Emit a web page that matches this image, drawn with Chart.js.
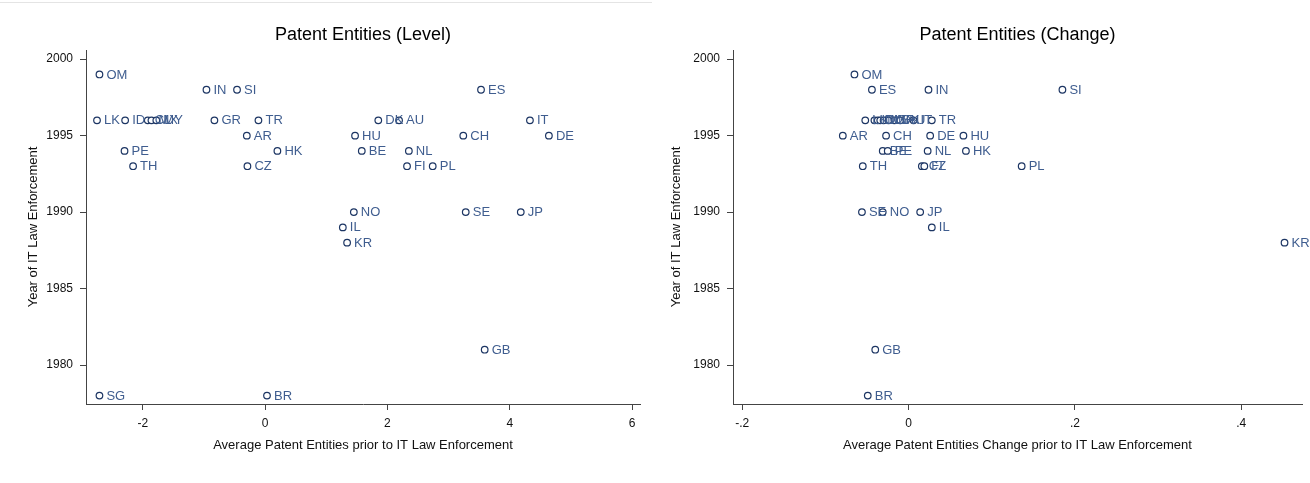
<!DOCTYPE html>
<html>
<head>
<meta charset="utf-8">
<script src="https://cdn.jsdelivr.net/npm/chart.js@4.4.1/dist/chart.umd.min.js"></script>
<style>
  html, body { margin: 0; padding: 0; background: #ffffff; }
  #wrap { position: relative; width: 1310px; height: 483px; overflow: hidden; }
  #topline { position: absolute; left: 0; top: 2px; width: 652px; height: 1px; background: #e4e4e4; }
  .pane { position: absolute; top: 0; height: 483px; }
  #paneLevel { left: 0; width: 650px; }
  #paneChange { left: 655px; width: 655px; }
</style>
</head>
<body>
<div id="wrap">
  <div id="topline"></div>
  <div class="pane" id="paneLevel"><canvas id="cLevel" width="650" height="483"></canvas></div>
  <div class="pane" id="paneChange"><canvas id="cChange" width="655" height="483"></canvas></div>
</div>
<script>
// Average patent entities (level) before IT law enforcement, by country
const levelCountries = ['OM','IN','SI','ES','LK','ID','CL','MX','MY','GR','TR','DK','AU','IT',
  'AR','HU','CH','DE','PE','HK','BE','NL','TH','CZ','FI','PL','NO','SE','JP','IL','KR','GB','SG','BR'];
const levelValues = [-2.71,-0.96,-0.46,3.53,-2.75,-2.29,-1.92,-1.86,-1.78,-0.83,-0.11,1.85,2.19,4.33,
  -0.30,1.47,3.24,4.64,-2.30,0.20,1.58,2.35,-2.16,-0.29,2.32,2.74,1.45,3.28,4.18,1.27,1.34,3.59,-2.71,0.03];
const levelYears = [1999,1998,1998,1998,1996,1996,1996,1996,1996,1996,1996,1996,1996,1996,
  1995,1995,1995,1995,1994,1994,1994,1994,1993,1993,1993,1993,1990,1990,1990,1989,1988,1981,1978,1978];

// Average change in patent entities before IT law enforcement, by country
const changeCountries = ['OM','ES','IN','SI','LK','ID','CL','MX','MY','GR','DK','AU','IT','TR',
  'AR','CH','DE','HU','BE','PE','NL','HK','TH','CZ','FI','PL','SE','NO','JP','IL','KR','GB','BR'];
const changeValues = [-0.065,-0.044,0.024,0.185,-0.052,-0.041,-0.037,-0.034,-0.030,-0.024,-0.017,-0.010,0.006,0.028,
  -0.079,-0.027,0.026,0.066,-0.031,-0.025,0.023,0.069,-0.055,0.016,0.019,0.136,-0.056,-0.031,0.014,0.028,0.452,-0.040,-0.049];
const changeYears = [1999,1998,1998,1998,1996,1996,1996,1996,1996,1996,1996,1996,1996,1996,
  1995,1995,1995,1995,1994,1994,1994,1994,1993,1993,1993,1993,1990,1990,1990,1989,1988,1981,1978];

// Tick labels
const yearTicks = [1980, 1985, 1990, 1995, 2000];
const levelTicks = [-2, 0, 2, 4, 6];
const changeTicks = [-0.2, 0, 0.2, 0.4];
const changeTickLabels = ['-.2', '0', '.2', '.4'];

const markerColor = '#1c3563';
const labelColor = '#3f5d8f';
const axisColor = '#444444';
const FONT = "'Liberation Sans', Arial, sans-serif";

// Writes each country code to the right of its marker
const pointLabels = {
  id: 'pointLabels',
  afterDatasetsDraw(chart) {
    const ctx = chart.ctx;
    const meta = chart.getDatasetMeta(0);
    const names = chart.data.datasets[0].names;
    ctx.save();
    ctx.font = '13px ' + FONT;
    ctx.fillStyle = labelColor;
    ctx.textAlign = 'left';
    ctx.textBaseline = 'middle';
    meta.data.forEach((pt, i) => {
      ctx.fillText(names[i], pt.x + 7, pt.y + 0.5);
    });
    ctx.restore();
  }
};

// Heading centred over the plot region
const plotHeading = {
  id: 'plotHeading',
  afterDraw(chart, args, opts) {
    const ctx = chart.ctx;
    const area = chart.chartArea;
    ctx.save();
    ctx.font = '18px ' + FONT;
    ctx.fillStyle = '#000000';
    ctx.textAlign = 'center';
    ctx.textBaseline = 'middle';
    ctx.fillText(opts.text, (area.left + area.right) / 2, 35);
    ctx.restore();
  }
};

function makeChart(canvasId, cfg) {
  const points = cfg.values.map((v, i) => ({ x: v, y: cfg.years[i] }));
  return new Chart(document.getElementById(canvasId), {
    type: 'scatter',
    data: {
      datasets: [{
        data: points,
        names: cfg.names,
        pointStyle: 'circle',
        pointRadius: 3.3,
        pointHoverRadius: 3.3,
        pointBorderWidth: 1.2,
        pointBorderColor: markerColor,
        pointBackgroundColor: '#ffffff'
      }]
    },
    options: {
      responsive: false,
      animation: false,
      events: [],
      layout: { padding: { left: 0, right: cfg.padRight, top: 50, bottom: 0 } },
      plugins: {
        legend: { display: false },
        tooltip: { enabled: false },
        title: { display: false },
        plotHeading: { text: cfg.title }
      },
      scales: {
        x: {
          type: 'linear',
          min: cfg.xMin,
          max: cfg.xMax,
          afterFit(scale) { scale.height = 79; },
          afterBuildTicks(scale) { scale.ticks = cfg.xTicks.map(v => ({ value: v })); },
          grid: { drawOnChartArea: false, drawTicks: true, tickLength: 6, color: axisColor, lineWidth: 1 },
          border: { display: true, color: axisColor, width: 1 },
          ticks: {
            color: '#111111',
            font: { family: FONT, size: 12 },
            padding: 6,
            maxRotation: 0,
            autoSkip: false,
            callback: (v) => cfg.xLabel(v)
          },
          title: {
            display: true,
            text: cfg.xTitle,
            color: '#111111',
            font: { family: FONT, size: 13 },
            padding: { top: 0, bottom: 30.2 }
          }
        },
        y: {
          type: 'linear',
          min: 1977.45,
          max: 2000.6,
          afterFit(scale) { scale.width = cfg.yWidth; },
          afterBuildTicks(scale) { scale.ticks = yearTicks.map(v => ({ value: v })); },
          grid: { drawOnChartArea: false, drawTicks: true, tickLength: 6, color: axisColor, lineWidth: 1 },
          border: { display: true, color: axisColor, width: 1 },
          ticks: {
            color: '#111111',
            font: { family: FONT, size: 12 },
            padding: 7,
            autoSkip: false,
            callback: (v) => String(v)
          },
          title: {
            display: true,
            text: 'Year of IT Law Enforcement',
            color: '#111111',
            font: { family: FONT, size: 13 },
            padding: { top: cfg.yTitlePad, bottom: 0 }
          }
        }
      }
    },
    plugins: [pointLabels, plotHeading]
  });
}

makeChart('cLevel', {
  names: levelCountries,
  values: levelValues,
  years: levelYears,
  title: 'Patent Entities (Level)',
  xTitle: 'Average Patent Entities prior to IT Law Enforcement',
  xMin: -2.93, xMax: 6.13,
  xTicks: levelTicks,
  xLabel: (v) => String(v),
  yWidth: 86,
  yTitlePad: 25.2,
  padRight: 10
});

makeChart('cChange', {
  names: changeCountries,
  values: changeValues,
  years: changeYears,
  title: 'Patent Entities (Change)',
  xTitle: 'Average Patent Entities Change prior to IT Law Enforcement',
  xMin: -0.211, xMax: 0.473,
  xTicks: changeTicks,
  xLabel: (v) => {
    const i = changeTicks.findIndex(t => Math.abs(t - v) < 1e-9);
    return i >= 0 ? changeTickLabels[i] : '';
  },
  yWidth: 78,
  yTitlePad: 13.2,
  padRight: 8
});
</script>
</body>
</html>
